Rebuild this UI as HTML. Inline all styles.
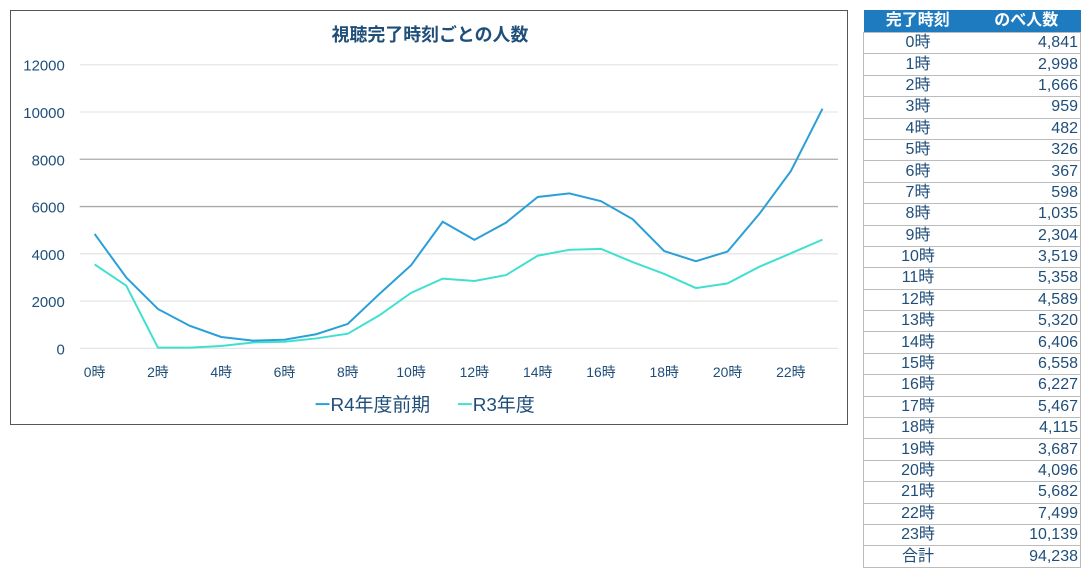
<!DOCTYPE html>
<html><head><meta charset="utf-8"><style>
body{margin:0;width:1092px;height:574px;background:#fff;font-family:"Liberation Sans","Noto Sans CJK JP",sans-serif;position:relative;overflow:hidden}
#chart{position:absolute;left:10px;top:10px;width:838px;height:415px;border:1px solid #555;box-sizing:border-box}
#tbl{position:absolute;left:863px;top:10px;border-collapse:collapse;font-size:16px;color:#1f4e79}
#tbl td,#tbl th{height:20.4px;padding:0 2px;border-bottom:1px solid #bbb;line-height:20px}
#tbl th{background:#1f7bbf;color:#fff;font-weight:bold;height:22px}
#tbl td:first-child{text-align:center;width:104px;border-left:1px solid #bbb}
#tbl td:last-child{text-align:right;width:104px;border-right:1px solid #bbb}
</style></head><body>
<svg id="chart" width="838" height="415" viewBox="10 10 838 415"></svg>
<table id="tbl"><thead><tr><th>完了時刻</th><th>のべ人数</th></tr></thead><tbody id="tb"></tbody></table>
<script>
const hours=["0時","1時","2時","3時","4時","5時","6時","7時","8時","9時","10時","11時","12時","13時","14時","15時","16時","17時","18時","19時","20時","21時","22時","23時"];
const r4=[4841,2998,1666,959,482,326,367,598,1035,2304,3519,5358,4589,5320,6406,6558,6227,5467,4115,3687,4096,5682,7499,10139];
const r3=[3550,2650,30,30,100,250,280,420,620,1400,2350,2950,2850,3100,3920,4170,4210,3650,3150,2550,2750,3450,4020,4600];
const yTicks=[0,2000,4000,6000,8000,10000,12000];
const total="94,238";
const NS="http://www.w3.org/2000/svg";
const svg=document.getElementById('chart');
const X=i=>93+i*31.8, Y=v=>349-v*(285/12000);
function mk(t,a,txt){const e=document.createElementNS(NS,t);for(const k in a)e.setAttribute(k,a[k]);if(txt!=null)e.textContent=txt;svg.appendChild(e);return e;}
let t=mk('text',{x:430,y:40,'text-anchor':'middle','font-size':18,'font-weight':'bold',fill:'#1f4e79'},'視聴完了時刻ごとの人数');


yTicks.forEach(v=>{
 const l=mk('line',{x1:78,x2:840,y1:Y(v),y2:Y(v),stroke:(v==6000||v==8000)?'#aaa':'#e6e6e6','stroke-width':1.3});
 
 
 const tx=mk('text',{x:63,y:Y(v)+6,'text-anchor':'end','font-size':15,fill:'#1f4e79'},v);
 
 
});
hours.forEach((h,i)=>{if(i%2)return;
 const tx=mk('text',{x:X(i),y:378,'text-anchor':'middle','font-size':14,fill:'#1f4e79'},h);
 
 
});
function line(d,c,n){const p=mk('polyline',{points:d.map((v,i)=>X(i)+','+Y(v)).join(' '),fill:'none',stroke:c,'stroke-width':2});
 
 }
line(r3,'#40e0d0','series-r3');
line(r4,'#2a9fd8','series-r4');
[[315,'#2a9fd8','R4年度前期','legend-r4'],[458,'#40e0d0','R3年度','legend-r3']].forEach(a=>{
 mk('line',{x1:a[0],x2:a[0]+14,y1:405,y2:405,stroke:a[1],'stroke-width':2});
 const tx=mk('text',{x:a[0]+15,y:412,'font-size':19,fill:'#1f4e79'},a[2]);
 
 
});
const tb=document.getElementById('tb');
hours.concat(['合計']).forEach((h,i)=>{
 const tr=document.createElement('tr');
 
 
 const v=i<24?r4[i].toLocaleString('en-US'):total;
 tr.innerHTML='<td>'+h+'</td><td>'+v+'</td>';
 tb.appendChild(tr);
});
</script>
</body></html>
